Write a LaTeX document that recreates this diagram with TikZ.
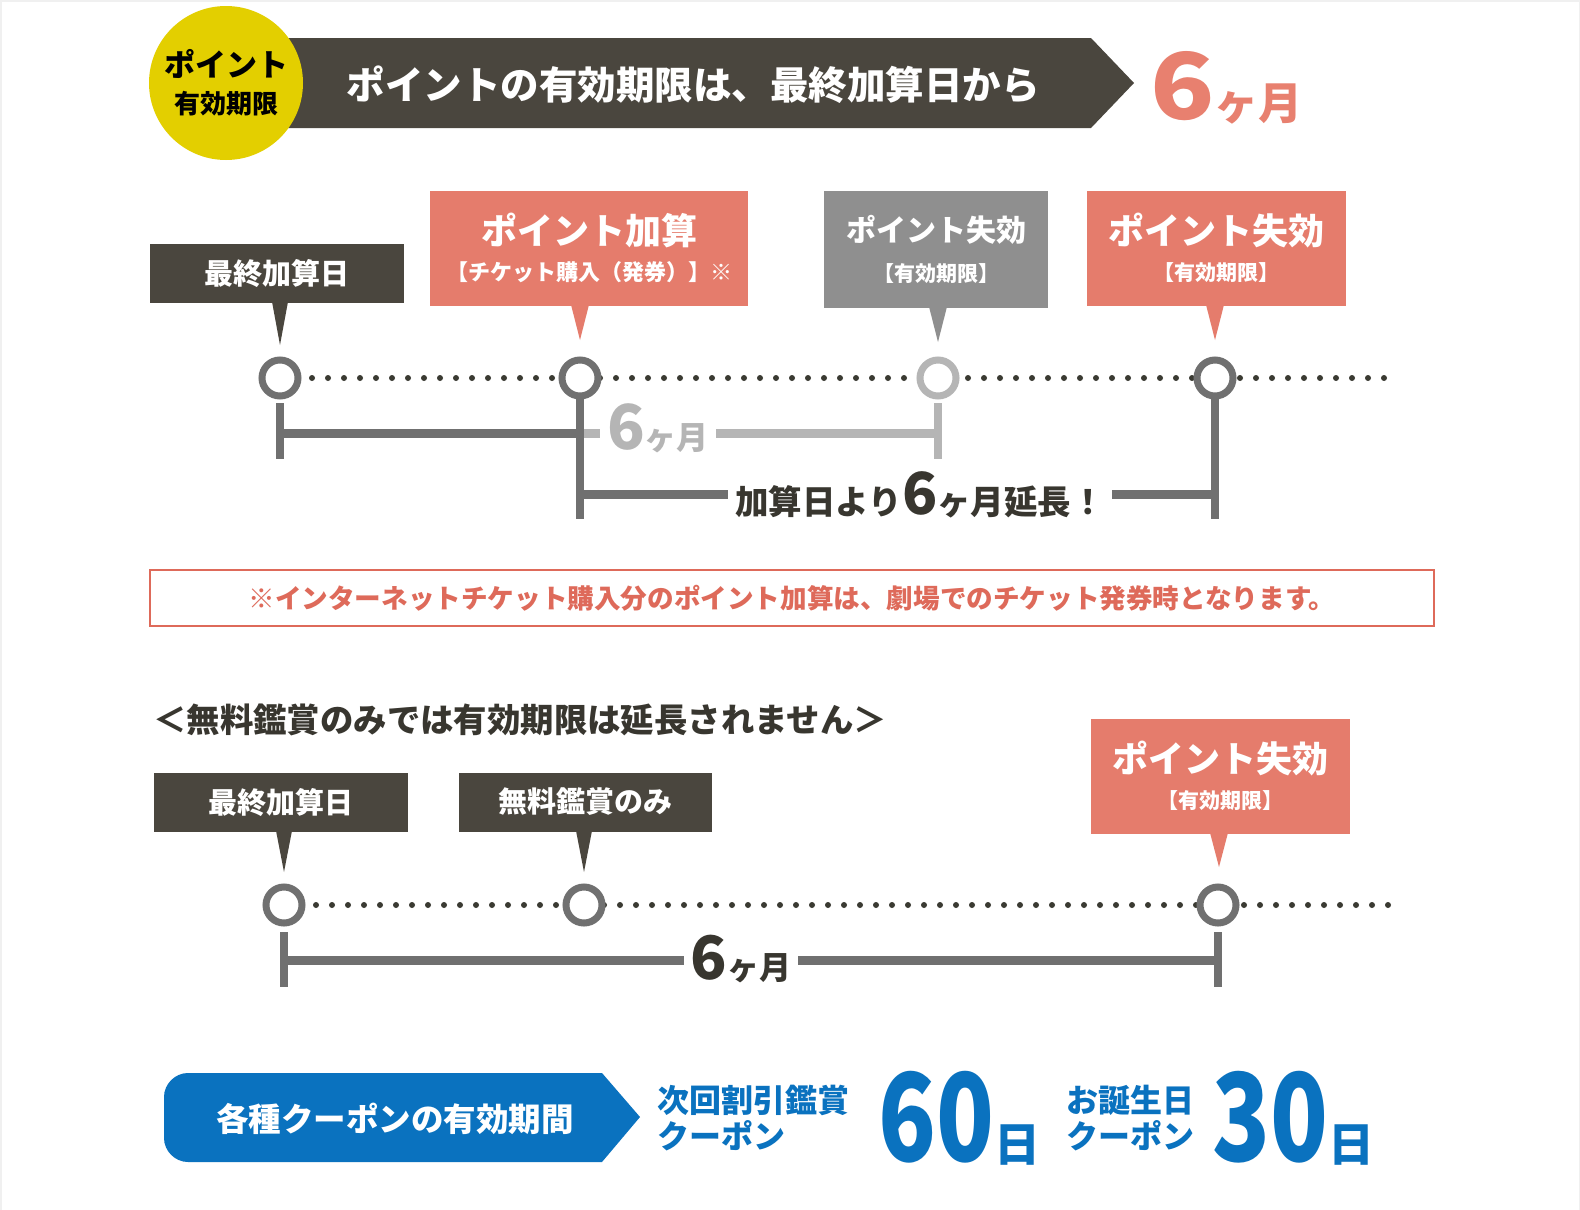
\documentclass[tikz,border=0pt]{standalone}
\usepackage{fontspec}
\setmainfont{Noto Sans CJK JP}
\usetikzlibrary{positioning}

\definecolor{boxdark}{HTML}{4A463E}
\definecolor{ptred}{HTML}{E57C6C}
\definecolor{ptgray}{HTML}{8F8F8F}
\definecolor{badgeyellow}{HTML}{E3CF00}
\definecolor{ringgray}{HTML}{707070}
\definecolor{ringlight}{HTML}{B5B5B5}
\definecolor{dotdark}{HTML}{3A3A32}
\definecolor{notered}{HTML}{DE6A5A}
\definecolor{cpblue}{HTML}{0A72BF}
\definecolor{txtdark}{HTML}{38362F}
\definecolor{bigred}{HTML}{E8806F}

\newcommand{\fsz}[1]{\fontsize{#1}{#1}\selectfont}

\begin{document}
\begin{tikzpicture}[x=1pt, y=-1pt,
    callout/.style={rectangle, text=white, align=center, inner sep=0pt},
    darkbox/.style={callout, fill=boxdark, minimum width=254pt, minimum height=59pt, font=\bfseries\fsz{29}},
    redbox/.style={callout, fill=ptred, minimum width=259pt, minimum height=115pt, font=\bfseries\fsz{36}},
    graybox/.style={callout, fill=ptgray, minimum width=224pt, minimum height=117pt, font=\bfseries\fsz{30}},
    ring/.style={circle, draw=ringgray, line width=7pt, fill=white, minimum size=36pt, inner sep=0pt},
    dots/.style={dotdark, line width=6pt, line cap=round, dash pattern=on 0pt off 16pt},
    bar/.style={ringgray, line width=9pt},
    tick/.style={ringgray, line width=8pt},
    months/.style={font=\bfseries, fill=white, inner xsep=7pt, inner ysep=0pt, anchor=base},
    bluetext/.style={text=cpblue, font=\bfseries\fsz{32}, align=left, inner sep=0pt, anchor=west},
    bignum/.style={text=cpblue, font=\bfseries, inner sep=0pt, anchor=base west}]

    \useasboundingbox (0,0) rectangle (1580,1210);
    \fill[white] (0,0) rectangle (1580,1210);
    \draw[gray!12, line width=1.5pt] (0.75,1210) -- (0.75,0.75) -- (1579.25,0.75) -- (1579.25,1210);

    % header
    \fill[boxdark] (250,38) -- (1091,38) -- (1134,83) -- (1091,128) -- (250,128) -- cycle;
    \node[text=white, font=\bfseries\fsz{38.5}, inner sep=0pt] (bantext) at (693,85) {ポイントの有効期限は、最終加算日から};
    \node[circle, fill=badgeyellow, minimum size=154pt, inner sep=0pt, align=center, font=\bfseries\fsz{31}] (badge) at (226,83)
        {ポイント\\[6pt]{\fsz{26}有効期限}};
    \node[text=bigred, font=\bfseries, inner sep=0pt, anchor=base west] (sixm) at (1150,119)
        {\scalebox{1.15}[1]{\fsz{92}6}{\fsz{44}ヶ月}};

    % timeline 1
    \coordinate (t1) at (280,378);
    \coordinate (t2) at (580,378);
    \coordinate (t3) at (938,378);
    \coordinate (t4) at (1215,378);
    \coordinate (tend) at (1395,378);
    \draw[dots] (t1) -- (tend);

    \draw[tick] (280,403) -- (280,459);
    \draw[bar] (280,433) -- (580,433);
    \draw[bar, ringlight] (580,433) -- (938,433);
    \draw[tick, ringlight] (938,403) -- (938,459);
    \draw[tick] (t2) -- (580,519);
    \draw[tick] (t4) -- (1215,519);
    \draw[bar] (580,494) -- (1215,494);
    \node[months, text=ringlight] (m1) at (658,449) {{\fsz{62}6}{\fsz{32}ヶ月}};
    \node[months, text=txtdark] (m2) at (920,514) {{\fsz{33.5}加算日より}{\fsz{58}6}{\fsz{33.5}ヶ月延長！}};

    \node[ring] (r1) at (t1) {};
    \node[ring] (r2) at (t2) {};
    \node[ring, draw=ringlight] (r3) at (t3) {};
    \node[ring] (r4) at (t4) {};

    % callouts 1
    \node[darkbox] (b1) at (277,273) {最終加算日};
    \node[redbox, minimum width=318pt] (b2) at (589,248) {ポイント加算\\[0pt]{\fsz{22}【チケット購入（発券）】※}};
    \node[graybox] (b3) at (936,249) {ポイント失効\\[10pt]{\fsz{21}【有効期限】}};
    \node[redbox] (b4) at (1216,248) {ポイント失効\\[0pt]{\fsz{21}【有効期限】}};

    \coordinate (p1) at (280,345);
    \coordinate (p2) at (580,340);
    \coordinate (p3) at (938,342);
    \coordinate (p4) at (1215,340);
    \fill[boxdark] (b1.south -| p1) ++(-8,-1) -- ++(16,0) -- (p1) -- cycle;
    \fill[ptred] (b2.south -| p2) ++(-9,-1) -- ++(18,0) -- (p2) -- cycle;
    \fill[ptgray] (b3.south -| p3) ++(-9,-1) -- ++(18,0) -- (p3) -- cycle;
    \fill[ptred] (b4.south -| p4) ++(-9,-1) -- ++(18,0) -- (p4) -- cycle;

    % note
    \node[draw=notered, line width=2pt, minimum width=1284pt, minimum height=56pt, inner sep=0pt,
        text=notered, font=\bfseries\fsz{26.6}] (note) at (792,598)
        {※インターネットチケット購入分のポイント加算は、劇場でのチケット発券時となります。};

    % timeline 2
    \node[anchor=west, text=txtdark, font=\bfseries\fsz{33.4}, inner sep=0pt] (head) at (153,720)
        {＜無料鑑賞のみでは有効期限は延長されません＞};

    \coordinate (s1) at (284,905);
    \coordinate (s2) at (584,905);
    \coordinate (s3) at (1218,905);
    \coordinate (send) at (1400,905);
    \draw[dots] (s1) -- (send);

    \draw[tick] (284,932) -- (284,987);
    \draw[tick] (1218,932) -- (1218,987);
    \draw[bar] (284,960) -- (1218,960);
    \node[months, text=txtdark] (m3) at (741,979) {{\fsz{60}6}{\fsz{32}ヶ月}};

    \node[ring] (u1) at (s1) {};
    \node[ring] (u2) at (s2) {};
    \node[ring] (u3) at (s3) {};

    \node[darkbox] (c1) at (281,802) {最終加算日};
    \node[darkbox, minimum width=253pt] (c2) at (585,802) {無料鑑賞のみ};
    \node[redbox] (c3) at (1220,776) {ポイント失効\\[0pt]{\fsz{21}【有効期限】}};

    \coordinate (q1) at (284,872);
    \coordinate (q2) at (584,872);
    \coordinate (q3) at (1219,867);
    \fill[boxdark] (c1.south -| q1) ++(-8,-1) -- ++(16,0) -- (q1) -- cycle;
    \fill[boxdark] (c2.south -| q2) ++(-8,-1) -- ++(16,0) -- (q2) -- cycle;
    \fill[ptred] (c3.south -| q3) ++(-9,-1) -- ++(18,0) -- (q3) -- cycle;

    % coupons
    \fill[cpblue] (188,1073) .. controls (175,1073) and (164,1084) .. (164,1097) -- (164,1138)
        .. controls (164,1151) and (175,1162) .. (188,1162) -- (602,1162) -- (640,1117) -- (602,1073) -- cycle;
    \node[text=white, font=\bfseries\fsz{32.5}, inner sep=0pt] (cptitle) at (395,1119) {各種クーポンの有効期間};
    \node[bluetext] (cp1) at (657,1118) {次回割引鑑賞\\[4pt]クーポン};
    \node[bignum] (d60) at (878,1161) {\scalebox{0.78}[1]{\fsz{122}60}{\fsz{46}日}};
    \node[bluetext] (cp2) at (1066,1118) {お誕生日\\[4pt]クーポン};
    \node[bignum] (d30) at (1212,1161) {\scalebox{0.78}[1]{\fsz{122}30}{\fsz{46}日}};
\end{tikzpicture}
\end{document}
